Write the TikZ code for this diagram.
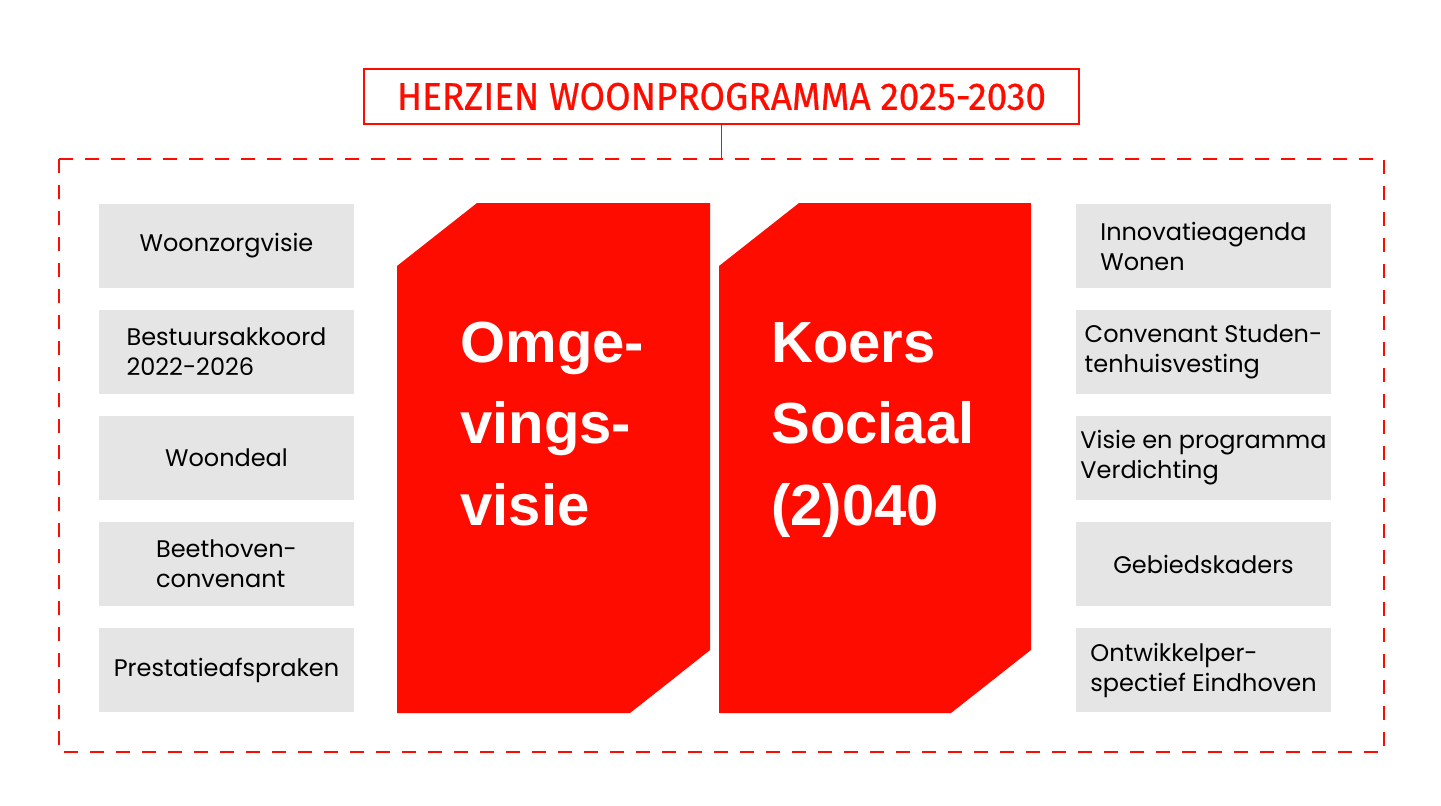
\documentclass[tikz,border=0pt]{standalone}
\usepackage{fontspec}
\setmainfont{Poppins}
\newfontfamily\kopfont{Fira Sans}[FakeBold=0.6]
\newfontfamily\grootfont{Liberation Sans}
\definecolor{rood}{RGB}{255,12,0}
\definecolor{grijs}{RGB}{229,229,229}
\tikzset{
	blok/.style={fill=grijs, minimum width=127.5pt, minimum height=42pt, inner sep=0pt, align=left, font=\fontsize{12}{15}\selectfont},
	groot/.style={anchor=base west, inner sep=0pt, align=left, text=white, font=\grootfont\bfseries\fontsize{29}{40.75}\selectfont},
}
\begin{document}
\begin{tikzpicture}[x=0.5pt, y=-0.5pt]
		\useasboundingbox (0,0) rectangle (1441,805);
		\node[draw=rood, line width=0.75pt, minimum width=357.5pt, minimum height=27.5pt, inner sep=0pt, text=rood] (titel) at (721.5,96.5) {\resizebox{324.5pt}{13.5pt}{\kopfont HERZIEN WOONPROGRAMMA 2025-2030}};
		\coordinate (kader) at (59,159);
		\draw[rood, line width=0.75pt, dash pattern=on 7pt off 6pt] (kader) rectangle (1384,752);
		\draw[rood, line width=0.75pt] (titel.south) -- (titel.south |- kader);
		\fill[rood] (477,203) -- (710,203) -- (710,650) -- (630,713) -- (397,713) -- (397,266) -- cycle;
		\fill[rood] (799,203) -- (1031,203) -- (1031,650) -- (951,713) -- (719,713) -- (719,266) -- cycle;
		\node[groot] (omgevingsvisie) at (460,525) {Omge-\\vings-\\visie};
		\node[groot] (koerssociaal) at (771,525) {Koers\\Sociaal\\(2)040};
		\node[blok] (woonzorg) at (226.5,246) {Woonzorgvisie};
		\node[blok] (bestuur) at (226.5,352) {Bestuursakkoord\\2022-2026};
		\node[blok] (woondeal) at (226.5,458) {Woondeal};
		\node[blok] (beethoven) at (226.5,564) {Beethoven-\\convenant};
		\node[blok] (prestatie) at (226.5,670) {Prestatieafspraken};
		\node[blok] (innovatie) at (1203.5,246) {Innovatieagenda\\Wonen};
		\node[blok] (studenten) at (1203.5,352) {Convenant Studen-\\tenhuisvesting};
		\node[blok] (verdichting) at (1203.5,458) {Visie en programma\\Verdichting};
		\node[blok] (gebied) at (1203.5,564) {Gebiedskaders};
		\node[blok] (ontwikkel) at (1203.5,670) {Ontwikkelper-\\spectief Eindhoven};
	\end{tikzpicture}
\end{document}
